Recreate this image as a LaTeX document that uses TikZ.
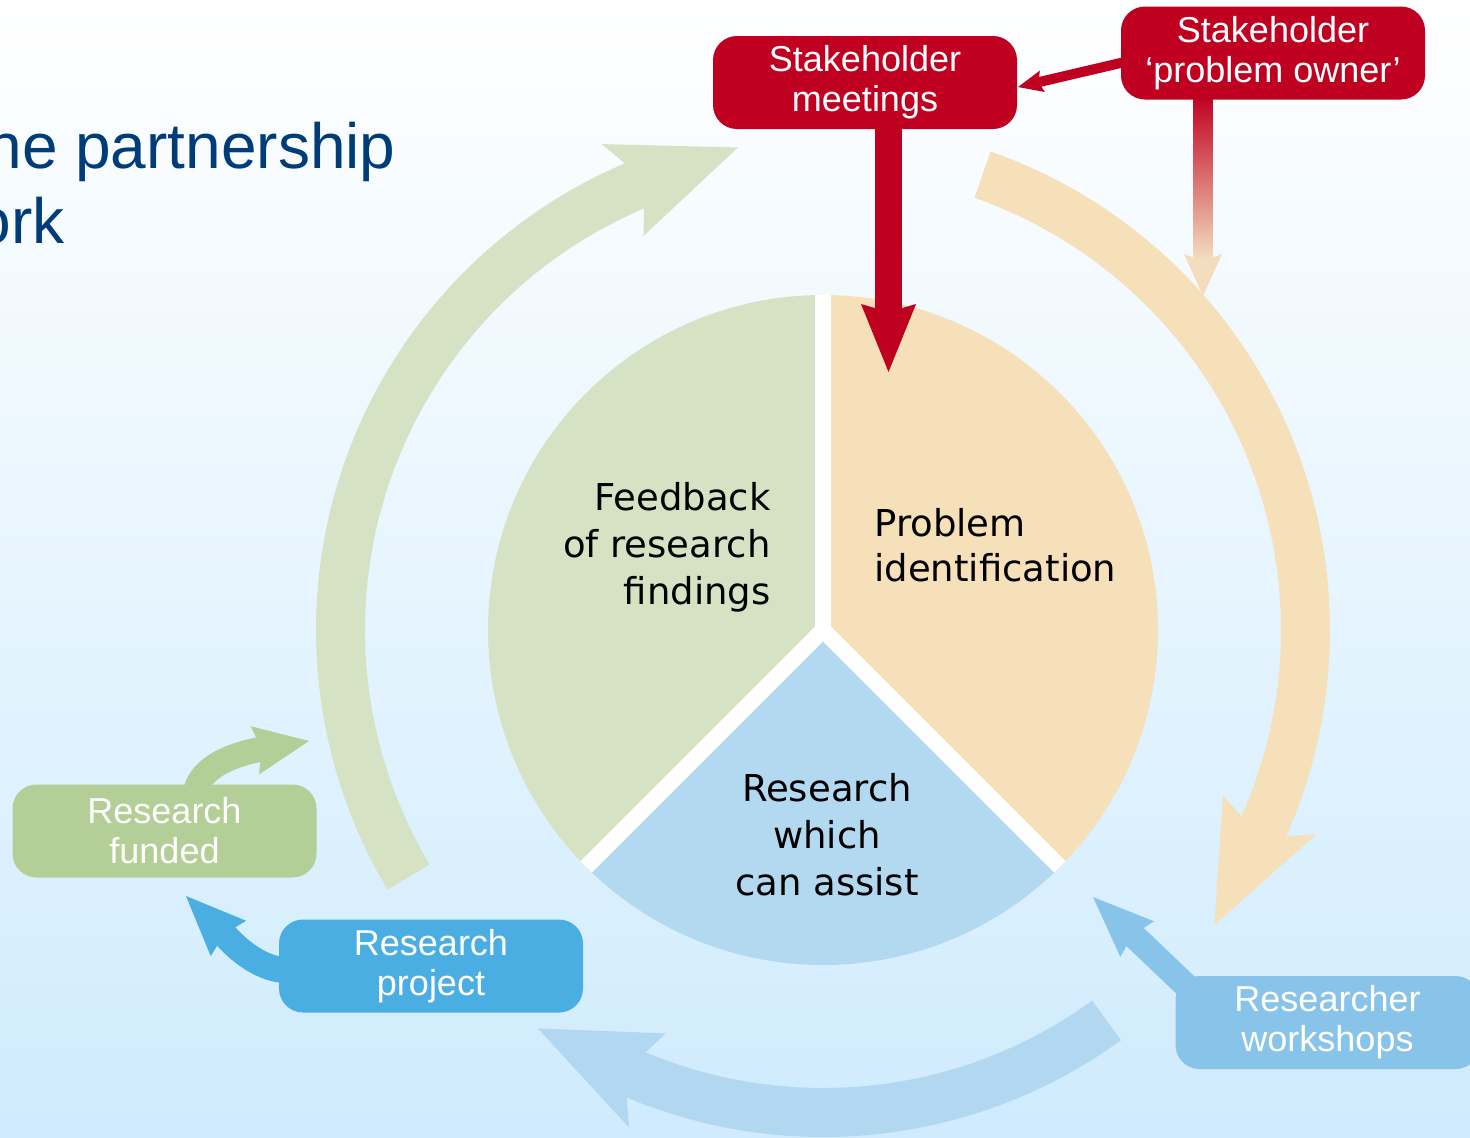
\documentclass[tikz,border=0pt]{standalone}
\usepackage{fontspec}
\setmainfont{DejaVu Sans}
\newfontfamily\boxfont{Liberation Sans}
\usetikzlibrary{arrows.meta,calc}
\definecolor{bgbot}{HTML}{CFEBFD}
\definecolor{pgreen}{HTML}{D5E3C4}
\definecolor{porange}{HTML}{F5E0BA}
\definecolor{pblue}{HTML}{B3D9F1}
\definecolor{bblue}{HTML}{B1D7F1}
\definecolor{sred}{HTML}{C00020}
\definecolor{fgreen}{HTML}{B3CF97}
\definecolor{prblue}{HTML}{4BAEE3}
\definecolor{wsblue}{HTML}{88C4EA}
\definecolor{tblue}{HTML}{003C78}
\definecolor{pale}{HTML}{F4DCBE}
\pgfdeclarelayer{bg}
\pgfdeclarelayer{arr}
\pgfsetlayers{bg,arr,main}
\newcommand\arcarrow[4]{%
  \fill[#4] (#1:507) arc[start angle=#1, end angle=#2, radius=507]
    -- ({#2+1.5}:534) -- (#3:490) -- ({#2+1.5}:433) -- (#2:458)
    arc[start angle=#2, end angle=#1, radius=458] -- cycle;}
\begin{document}
\begin{tikzpicture}[x=0.5pt,y=-0.5pt,
  box/.style={rectangle, rounded corners=12pt, minimum width=152pt,
    minimum height=46.5pt, inner sep=0pt, align=center, text=white,
    font=\boxfont\fontsize{18}{20}\selectfont},
  pietext/.style={inner sep=0pt, text=black, font=\fontsize{18.5}{23.5}\selectfont},
  titletext/.style={inner sep=0pt, anchor=base east, text=tblue,
    font=\boxfont\fontsize{32}{37.5}\selectfont}]
\useasboundingbox (0,0) rectangle (1470,1137);

% nodes
\node[box, fill=sred] (meet) at (865,82.5) {Stakeholder\\meetings};
\node[box, fill=sred] (po) at (1273,53) {Stakeholder\\‘problem owner’};
\node[box, fill=fgreen] (rf) at (164.5,831) {Research\\funded};
\node[box, fill=prblue] (pp) at (431,966) {Research\\project};
\node[box, fill=wsblue] (ws) at (1327.5,1022.5) {Researcher\\workshops};

\node[titletext] (t1) at (396,168) {ne partnership};
\node[titletext] (t2) at (65,243) {ork};

\node[pietext, anchor=east, align=right, font=\fontsize{18.5}{23.5}\selectfont] (fb) at (771,547) {Feedback\\of research\\findings};
\node[pietext, anchor=west, align=left, font=\fontsize{18.5}{22.5}\selectfont] (pi) at (874,545) {Problem\\identification};
\node[pietext, align=center] (rw) at (827,835) {Research\\which\\can assist};

\begin{pgfonlayer}{bg}
  \shade[top color=white, bottom color=bgbot] (0,0) rectangle (1470,1137);
  \begin{scope}[shift={(823,630)}, yscale=-1]
    \arcarrow{210.8}{113}{100}{pgreen}
    \arcarrow{70.7}{-24}{-37}{porange}
    \arcarrow{-54}{-112.8}{-125.6}{bblue}
    \fill[pgreen] (0,0) -- (90:335) arc[start angle=90, end angle=225, radius=335] -- cycle;
    \fill[porange] (0,0) -- (-45:335) arc[start angle=-45, end angle=90, radius=335] -- cycle;
    \fill[pblue] (0,0) -- (225:335) arc[start angle=225, end angle=315, radius=335] -- cycle;
    \begin{scope}
      \clip (0,0) circle[radius=335];
      \draw[white, line width=8pt, line join=round] (90:345) -- (0,0) -- (225:345) (0,0) -- (-45:345);
    \end{scope}
  \end{scope}
\end{pgfonlayer}

\begin{pgfonlayer}{arr}
  \coordinate (rtip) at (888.5,372);
  \draw[sred, line width=13.5pt, -{Stealth[length=34pt,width=27.5pt,inset=4pt,line width=0pt]}]
    (meet.south -| rtip) -- (rtip);
  \coordinate (m1) at (1018,87);
  \draw[sred, line width=5pt, -{Stealth[length=12.5pt,width=11pt,inset=2pt,line width=0pt]}]
    ($(po.west)+(2,9.5)$) -- (m1);
  \coordinate (gtip) at (1203,296);
  \draw[pale, line width=9.5pt, -{Stealth[length=21pt,width=19pt,inset=3.5pt,line width=0pt]}]
    (po.south -| gtip) -- (gtip);
  \shade[top color=sred, bottom color=pale] (1193.5,96) rectangle (1212.5,258);
  \coordinate (gt) at (309,741);
  \draw[fgreen, line width=12.5pt, -{Stealth[length=27.5pt,width=24.5pt,inset=3.5pt,line width=0pt]}]
    ($(rf.north)+(31.5,6)$) .. controls (203,762) and (245,752) .. (gt);
  \coordinate (bt) at (186,896);
  \draw[prblue, line width=13pt, -{Stealth[length=30pt,width=25pt,inset=3pt,line width=0pt]}]
    ($(pp.west)+(6,4)$) .. controls (252,968) and (226,936) .. (bt);
  \coordinate (wt) at (1093,897);
  \draw[wsblue, line width=12.5pt, -{Stealth[length=30.5pt,width=24.5pt,inset=3pt,line width=0pt]}]
    ($(ws.north west)+(12,11)$) -- (wt);
\end{pgfonlayer}
\end{tikzpicture}
\end{document}
